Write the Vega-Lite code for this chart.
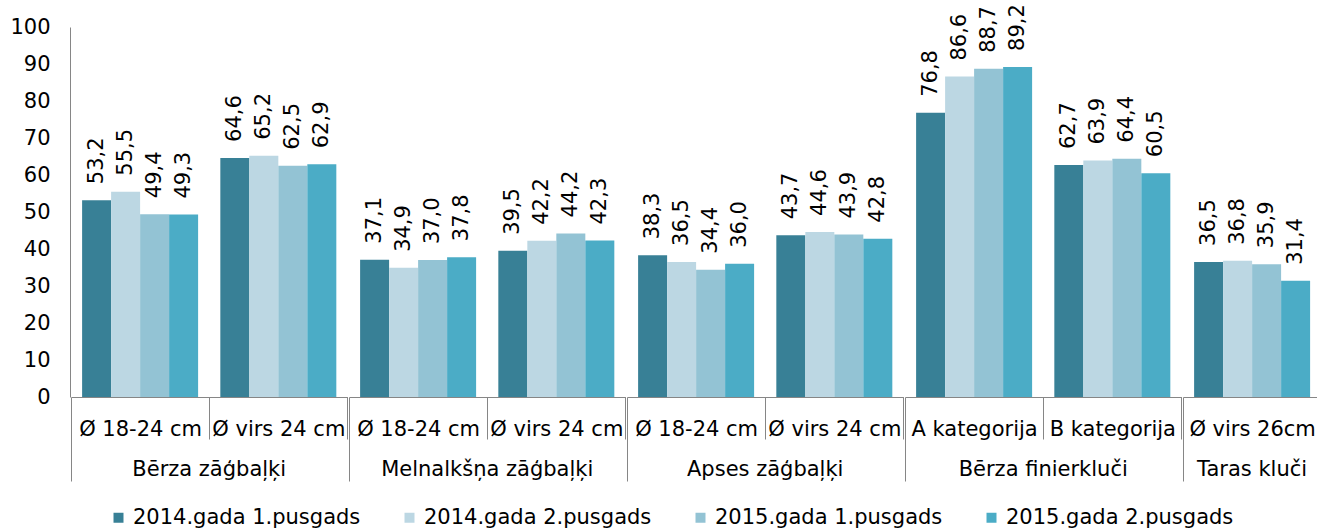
{
  "$schema": "https://vega.github.io/schema/vega-lite/v6.json",
  "autosize": {"type": "pad"},
  "padding": {"left": 9, "top": 4, "right": 0, "bottom": 0},
  "data": {"values": [
    {"cat": "Bērza zāģbaļķi", "sub": "Ø 18-24 cm", "series": "2014.gada 1.pusgads", "v": 53.2},
    {"cat": "Bērza zāģbaļķi", "sub": "Ø 18-24 cm", "series": "2014.gada 2.pusgads", "v": 55.5},
    {"cat": "Bērza zāģbaļķi", "sub": "Ø 18-24 cm", "series": "2015.gada 1.pusgads", "v": 49.4},
    {"cat": "Bērza zāģbaļķi", "sub": "Ø 18-24 cm", "series": "2015.gada 2.pusgads", "v": 49.3},
    {"cat": "Bērza zāģbaļķi", "sub": "Ø virs 24 cm", "series": "2014.gada 1.pusgads", "v": 64.6},
    {"cat": "Bērza zāģbaļķi", "sub": "Ø virs 24 cm", "series": "2014.gada 2.pusgads", "v": 65.2},
    {"cat": "Bērza zāģbaļķi", "sub": "Ø virs 24 cm", "series": "2015.gada 1.pusgads", "v": 62.5},
    {"cat": "Bērza zāģbaļķi", "sub": "Ø virs 24 cm", "series": "2015.gada 2.pusgads", "v": 62.9},
    {"cat": "Melnalkšņa zāģbaļķi", "sub": "Ø 18-24 cm", "series": "2014.gada 1.pusgads", "v": 37.1},
    {"cat": "Melnalkšņa zāģbaļķi", "sub": "Ø 18-24 cm", "series": "2014.gada 2.pusgads", "v": 34.9},
    {"cat": "Melnalkšņa zāģbaļķi", "sub": "Ø 18-24 cm", "series": "2015.gada 1.pusgads", "v": 37.0},
    {"cat": "Melnalkšņa zāģbaļķi", "sub": "Ø 18-24 cm", "series": "2015.gada 2.pusgads", "v": 37.8},
    {"cat": "Melnalkšņa zāģbaļķi", "sub": "Ø virs 24 cm", "series": "2014.gada 1.pusgads", "v": 39.5},
    {"cat": "Melnalkšņa zāģbaļķi", "sub": "Ø virs 24 cm", "series": "2014.gada 2.pusgads", "v": 42.2},
    {"cat": "Melnalkšņa zāģbaļķi", "sub": "Ø virs 24 cm", "series": "2015.gada 1.pusgads", "v": 44.2},
    {"cat": "Melnalkšņa zāģbaļķi", "sub": "Ø virs 24 cm", "series": "2015.gada 2.pusgads", "v": 42.3},
    {"cat": "Apses zāģbaļķi", "sub": "Ø 18-24 cm", "series": "2014.gada 1.pusgads", "v": 38.3},
    {"cat": "Apses zāģbaļķi", "sub": "Ø 18-24 cm", "series": "2014.gada 2.pusgads", "v": 36.5},
    {"cat": "Apses zāģbaļķi", "sub": "Ø 18-24 cm", "series": "2015.gada 1.pusgads", "v": 34.4},
    {"cat": "Apses zāģbaļķi", "sub": "Ø 18-24 cm", "series": "2015.gada 2.pusgads", "v": 36.0},
    {"cat": "Apses zāģbaļķi", "sub": "Ø virs 24 cm", "series": "2014.gada 1.pusgads", "v": 43.7},
    {"cat": "Apses zāģbaļķi", "sub": "Ø virs 24 cm", "series": "2014.gada 2.pusgads", "v": 44.6},
    {"cat": "Apses zāģbaļķi", "sub": "Ø virs 24 cm", "series": "2015.gada 1.pusgads", "v": 43.9},
    {"cat": "Apses zāģbaļķi", "sub": "Ø virs 24 cm", "series": "2015.gada 2.pusgads", "v": 42.8},
    {"cat": "Bērza finierkluči", "sub": "A kategorija", "series": "2014.gada 1.pusgads", "v": 76.8},
    {"cat": "Bērza finierkluči", "sub": "A kategorija", "series": "2014.gada 2.pusgads", "v": 86.6},
    {"cat": "Bērza finierkluči", "sub": "A kategorija", "series": "2015.gada 1.pusgads", "v": 88.7},
    {"cat": "Bērza finierkluči", "sub": "A kategorija", "series": "2015.gada 2.pusgads", "v": 89.2},
    {"cat": "Bērza finierkluči", "sub": "B kategorija", "series": "2014.gada 1.pusgads", "v": 62.7},
    {"cat": "Bērza finierkluči", "sub": "B kategorija", "series": "2014.gada 2.pusgads", "v": 63.9},
    {"cat": "Bērza finierkluči", "sub": "B kategorija", "series": "2015.gada 1.pusgads", "v": 64.4},
    {"cat": "Bērza finierkluči", "sub": "B kategorija", "series": "2015.gada 2.pusgads", "v": 60.5},
    {"cat": "Taras kluči", "sub": "Ø virs 26cm", "series": "2014.gada 1.pusgads", "v": 36.5},
    {"cat": "Taras kluči", "sub": "Ø virs 26cm", "series": "2014.gada 2.pusgads", "v": 36.8},
    {"cat": "Taras kluči", "sub": "Ø virs 26cm", "series": "2015.gada 1.pusgads", "v": 35.9},
    {"cat": "Taras kluči", "sub": "Ø virs 26cm", "series": "2015.gada 2.pusgads", "v": 31.4}
  ]},
  "facet": {
    "column": {
      "field": "cat", "type": "nominal",
      "sort": ["Bērza zāģbaļķi", "Melnalkšņa zāģbaļķi", "Apses zāģbaļķi", "Bērza finierkluči", "Taras kluči"],
      "header": {"title": null, "labelOrient": "bottom", "labelFontSize": 21, "labelFont": "DejaVu Sans", "labelColor": "#000000", "labelPadding": -23}
    }
  },
  "spacing": 0,
  "resolve": {"scale": {"x": "independent"}},
  "spec": {
    "width": {"step": 29},
    "height": 370,
    "encoding": {
      "x": {"field": "sub", "type": "nominal", "sort": null,
        "scale": {"paddingInner": 0, "paddingOuter": 0},
        "axis": {"title": null, "labelAngle": 0, "tickBand": "extent",
          "tickSize": {"condition": {"test": "datum.index < 0", "value": 84}, "value": 42},
          "labelPadding": {"condition": {"test": "datum.index < 0", "value": -63}, "value": -21},
          "domainColor": "#868686", "tickColor": "#868686", "labelFontSize": 21, "labelFont": "DejaVu Sans", "labelColor": "#000000", "labelLimit": 400}},
      "xOffset": {"field": "series", "type": "nominal", "sort": null, "scale": {"paddingInner": 0, "paddingOuter": 0.383}},
      "y": {"field": "v", "type": "quantitative", "scale": {"domain": [0, 100], "nice": false},
        "axis": {"title": null, "values": [0,10,20,30,40,50,60,70,80,90,100], "labelOverlap": false, "ticks": false, "labelPadding": 20, "grid": false,
          "domainColor": "#868686", "labelFontSize": 21, "labelFont": "DejaVu Sans", "labelColor": "#000000"}}
    },
    "layer": [
      {
        "mark": {"type": "bar"},
        "encoding": {
          "color": {"field": "series", "type": "nominal", "sort": null,
            "scale": {"domain": ["2014.gada 1.pusgads", "2014.gada 2.pusgads", "2015.gada 1.pusgads", "2015.gada 2.pusgads"],
              "range": ["#388096", "#BCD7E3", "#93C3D4", "#4BACC6"]},
            "legend": {"title": null, "orient": "none", "legendX": 37, "legendY": 480, "direction": "horizontal", "padding": 0,
              "labelFontSize": 21, "labelFont": "DejaVu Sans", "labelColor": "#000000", "labelLimit": 400,
              "symbolType": "square", "symbolSize": 100, "symbolStrokeWidth": 0, "columnPadding": 38, "labelOffset": 4}}
        }
      },
      {
        "mark": {"type": "text", "angle": 270, "align": "left", "baseline": "middle", "dx": 16, "fontSize": 21, "font": "DejaVu Sans", "color": "#000000"},
        "encoding": {
          "text": {"field": "v", "type": "quantitative", "format": ".1f"}
        }
      }
    ]
  },
  "config": {
    "locale": {"number": {"decimal": ",", "thousands": " ", "grouping": [3], "currency": ["", ""]}},
    "view": {"stroke": null},
    "axis": {"grid": false}
  }
}
